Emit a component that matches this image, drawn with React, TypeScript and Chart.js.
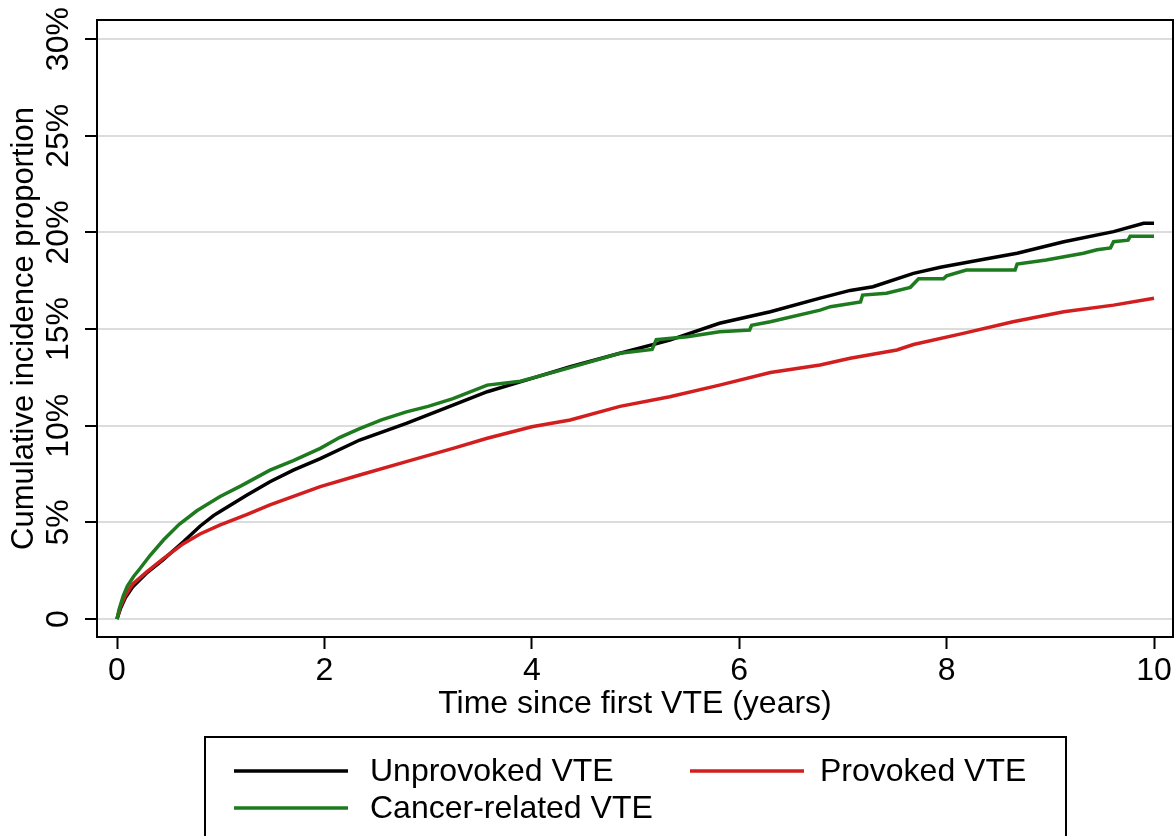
import React, { useEffect, useRef } from 'react';
import { Chart, registerables } from 'chart.js';

Chart.register(...registerables);

// ---- Data (years since first VTE, cumulative incidence %) ----
const unprovokedTime = [0, 0.03, 0.08, 0.15, 0.29, 0.44, 0.64, 0.8, 0.93, 0.99, 1.25, 1.475, 1.7, 1.96, 2.34, 2.79, 3.24, 3.57, 4.0, 4.37, 4.85, 5.33, 5.81, 6.3, 6.78, 7.07, 7.29, 7.68, 7.94, 8.32, 8.68, 9.13, 9.61, 9.9, 10.0];
const unprovokedValue = [0, 0.5, 1.1, 1.65, 2.4, 3.05, 4.0, 4.8, 5.35, 5.55, 6.4, 7.1, 7.7, 8.3, 9.26, 10.12, 11.07, 11.76, 12.45, 13.05, 13.75, 14.43, 15.3, 15.9, 16.6, 17.0, 17.19, 17.88, 18.2, 18.57, 18.92, 19.52, 20.04, 20.47, 20.47];

const provokedTime = [0, 0.03, 0.08, 0.15, 0.29, 0.44, 0.64, 0.8, 0.99, 1.25, 1.475, 1.96, 2.34, 2.79, 3.24, 3.57, 4.0, 4.37, 4.85, 5.33, 5.81, 6.3, 6.78, 7.07, 7.52, 7.68, 8.16, 8.64, 9.13, 9.61, 10.0];
const provokedValue = [0, 0.6, 1.2, 1.8, 2.45, 3.1, 3.9, 4.4, 4.86, 5.4, 5.9, 6.85, 7.45, 8.14, 8.83, 9.35, 9.95, 10.3, 11.0, 11.5, 12.1, 12.75, 13.14, 13.49, 13.92, 14.2, 14.78, 15.38, 15.9, 16.24, 16.59];

const cancerTime = [0, 0.02, 0.06, 0.1, 0.16, 0.22, 0.32, 0.45, 0.6, 0.77, 0.99, 1.2, 1.475, 1.7, 1.96, 2.15, 2.34, 2.55, 2.79, 3.0, 3.24, 3.57, 3.89, 4.3, 4.85, 5.16, 5.2, 5.5, 5.81, 6.1, 6.12, 6.3, 6.78, 6.88, 7.17, 7.19, 7.42, 7.65, 7.73, 7.97, 8.0, 8.19, 8.66, 8.68, 8.96, 9.32, 9.45, 9.58, 9.61, 9.75, 9.77, 10.0];
const cancerValue = [0, 0.5, 1.2, 1.7, 2.2, 2.6, 3.3, 4.1, 4.9, 5.6, 6.33, 6.9, 7.7, 8.2, 8.83, 9.4, 9.85, 10.3, 10.72, 11.0, 11.4, 12.1, 12.3, 12.9, 13.75, 13.95, 14.45, 14.6, 14.86, 14.95, 15.2, 15.38, 15.98, 16.16, 16.4, 16.76, 16.85, 17.16, 17.6, 17.6, 17.75, 18.05, 18.05, 18.36, 18.57, 18.92, 19.1, 19.2, 19.52, 19.6, 19.8, 19.8];

const seriesLabels = ['Unprovoked VTE', 'Provoked VTE', 'Cancer-related VTE'];
const seriesColors = ['#000000', '#d21e1e', '#1e7a1e'];

const xTickValues = [0, 2, 4, 6, 8, 10];
const yTickValues = [0, 5, 10, 15, 20, 25, 30];

const xTitle = 'Time since first VTE (years)';
const yTitle = 'Cumulative incidence proportion';

const FONT = '"Liberation Sans", Arial, Helvetica, sans-serif';

const toPoints = (t: number[], v: number[]) => t.map((x, i) => ({ x, y: v[i] }));

const framePlugin = {
  id: 'frameAndLegend',
  afterDatasetsDraw(chart: any) {
    const { ctx, chartArea: a } = chart;
    ctx.save();
    ctx.strokeStyle = '#000';
    ctx.lineWidth = 2;
    ctx.strokeRect(a.left, a.top, a.right - a.left, a.bottom - a.top);
    ctx.restore();
  },
  afterDraw(chart: any) {
    const { ctx } = chart;
    const ds = chart.data.datasets;
    ctx.save();
    ctx.strokeStyle = '#000';
    ctx.lineWidth = 2;
    ctx.strokeRect(205, 737, 861, 160);
    const items = [
      { i: 0, lx: 234, ly: 771, tx: 370 },
      { i: 1, lx: 690, ly: 771, tx: 820 },
      { i: 2, lx: 234, ly: 808, tx: 370 },
    ];
    ctx.font = `32px ${FONT}`;
    ctx.textBaseline = 'middle';
    ctx.textAlign = 'left';
    for (const it of items) {
      ctx.strokeStyle = ds[it.i].borderColor;
      ctx.lineWidth = 3.5;
      ctx.beginPath();
      ctx.moveTo(it.lx, it.ly);
      ctx.lineTo(it.lx + 114, it.ly);
      ctx.stroke();
      ctx.fillStyle = '#000';
      ctx.fillText(ds[it.i].label, it.tx, it.ly + 1);
    }
    ctx.restore();
  },
};

export default function App() {
  const ref = useRef<HTMLCanvasElement | null>(null);

  useEffect(() => {
    if (!ref.current) return;
    document.body.style.margin = '0';
    const series = [
      toPoints(unprovokedTime, unprovokedValue),
      toPoints(provokedTime, provokedValue),
      toPoints(cancerTime, cancerValue),
    ];
    const chart = new Chart(ref.current, {
      type: 'line',
      data: {
        datasets: series.map((data, i) => ({
          label: seriesLabels[i],
          data,
          borderColor: seriesColors[i],
          backgroundColor: seriesColors[i],
          borderWidth: 3.5,
          pointRadius: 0,
          tension: 0,
          fill: false,
          order: 3 - i,
        })),
      },
      options: {
        animation: false,
        responsive: false,
        devicePixelRatio: 1,
        layout: { padding: { top: 20, right: 2, bottom: 99, left: 0 } },
        plugins: {
          legend: { display: false },
          tooltip: { enabled: false },
        },
        scales: {
          x: {
            type: 'linear',
            min: -0.193,
            max: 10.183,
            afterBuildTicks: (scale: any) => {
              scale.ticks = xTickValues.map((value) => ({ value }));
            },
            afterFit: (scale: any) => {
              scale.height = 100;
            },
            border: { display: false },
            grid: {
              display: true,
              drawOnChartArea: false,
              drawTicks: true,
              tickLength: 12,
              tickWidth: 2,
              tickColor: '#000',
            },
            ticks: {
              autoSkip: false,
              maxRotation: 0,
              minRotation: 0,
              padding: 3,
              color: '#000',
              font: { family: FONT, size: 32 },
              callback: (v: any) => String(v),
            },
            title: {
              display: true,
              text: xTitle,
              color: '#000',
              font: { family: FONT, size: 32 },
              padding: { top: 0, bottom: 14 },
            },
          },
          y: {
            type: 'linear',
            min: -0.93,
            max: 30.99,
            afterBuildTicks: (scale: any) => {
              scale.ticks = yTickValues.map((value) => ({ value }));
            },
            afterFit: (scale: any) => {
              scale.width = 97;
            },
            border: { display: false },
            grid: {
              display: true,
              drawOnChartArea: true,
              drawTicks: true,
              tickLength: 12,
              tickWidth: 2,
              tickColor: '#000',
              color: '#dcdcdc',
              lineWidth: 2,
            },
            ticks: {
              autoSkip: false,
              minRotation: 90,
              maxRotation: 90,
              crossAlign: 'center',
              padding: -6,
              color: '#000',
              font: { family: FONT, size: 32 },
              callback: (v: any) => (v === 0 ? '0' : `${v}%`),
            },
            title: {
              display: true,
              text: yTitle,
              color: '#000',
              font: { family: FONT, size: 31 },
              padding: { top: 6, bottom: 0 },
            },
          },
        },
      },
      plugins: [framePlugin],
    });
    return () => chart.destroy();
  }, []);

  return (
    <div style={{ position: 'absolute', left: 0, top: 0, width: 1175, height: 836, background: '#fff' }}>
      <canvas ref={ref} width={1175} height={836} />
    </div>
  );
}
